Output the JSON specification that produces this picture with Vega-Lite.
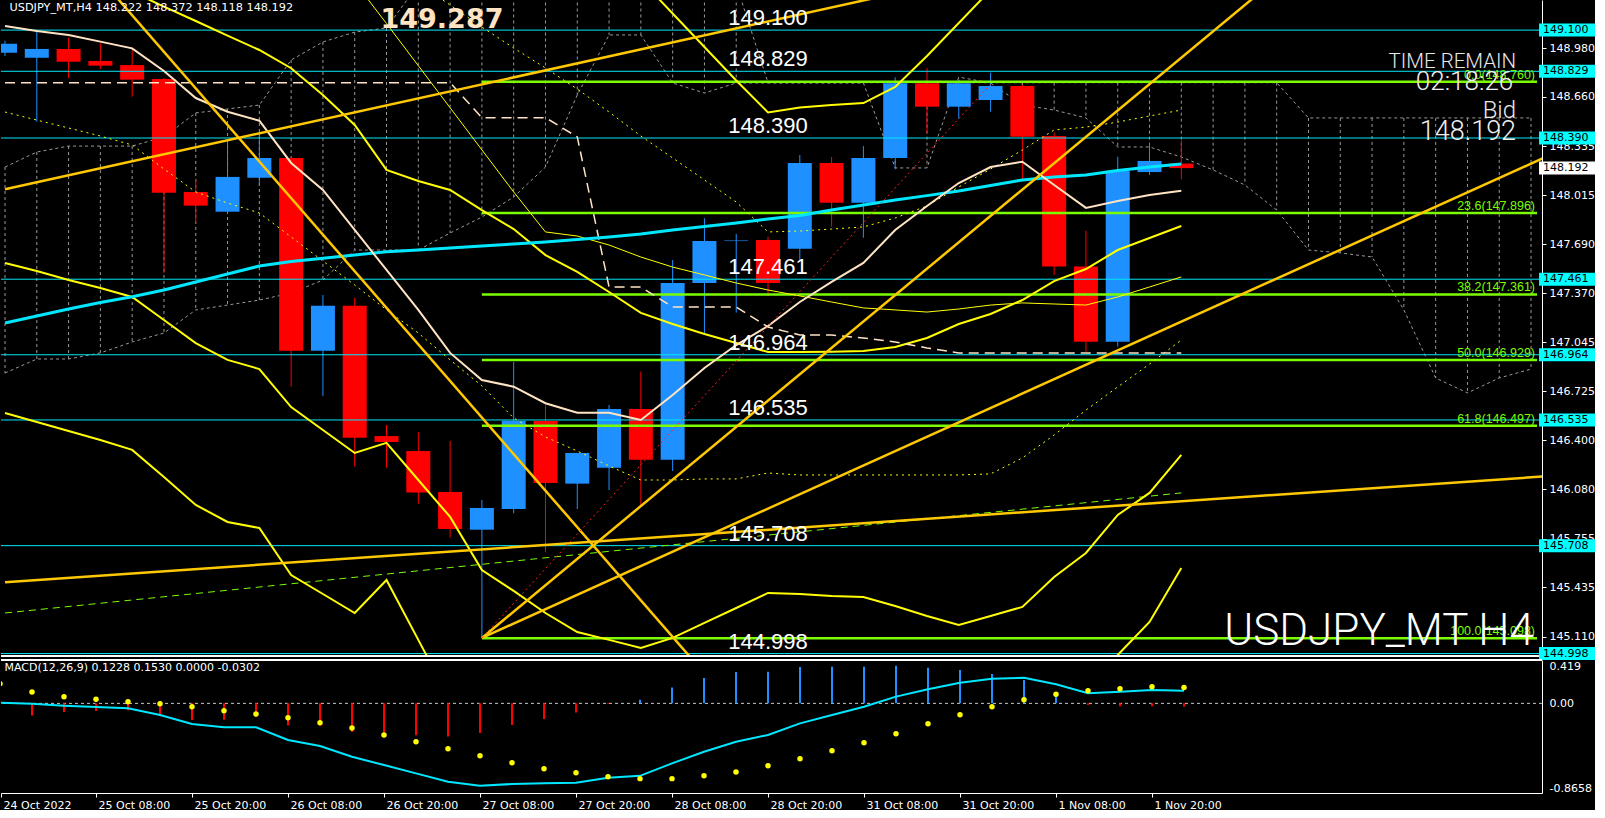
{
"$schema": "https://vega.github.io/schema/vega-lite/v6.json",
"background": "#000000",
"padding": 0,
"spacing": 4,
"bounds": "flush",
"config": {"view": {"stroke": null}, "font": "DejaVu Sans"},
"datasets": {
"candles": [
{"i":-1,"o":148.951,"h":149.03,"l":148.93,"c":149.010},
{"i":0,"o":148.918,"h":149.099,"l":148.497,"c":148.976},
{"i":1,"o":148.976,"h":149.050,"l":148.783,"c":148.892},
{"i":2,"o":148.897,"h":149.013,"l":148.844,"c":148.866},
{"i":3,"o":148.870,"h":148.974,"l":148.662,"c":148.774},
{"i":4,"o":148.778,"h":148.785,"l":147.502,"c":148.030},
{"i":5,"o":148.035,"h":148.120,"l":147.833,"c":147.945},
{"i":6,"o":147.905,"h":148.377,"l":147.900,"c":148.134},
{"i":7,"o":148.129,"h":148.421,"l":148.076,"c":148.258},
{"i":8,"o":148.258,"h":148.262,"l":146.754,"c":146.991},
{"i":9,"o":146.991,"h":147.357,"l":146.693,"c":147.287},
{"i":10,"o":147.287,"h":147.339,"l":146.228,"c":146.418},
{"i":11,"o":146.429,"h":146.502,"l":146.221,"c":146.390},
{"i":12,"o":146.331,"h":146.456,"l":145.984,"c":146.057},
{"i":13,"o":146.061,"h":146.397,"l":145.761,"c":145.818},
{"i":14,"o":145.813,"h":146.009,"l":145.099,"c":145.956},
{"i":15,"o":145.949,"h":146.916,"l":145.921,"c":146.530},
{"i":16,"o":146.528,"h":146.633,"l":145.665,"c":146.120},
{"i":17,"o":146.116,"h":146.318,"l":145.949,"c":146.318},
{"i":18,"o":146.221,"h":146.633,"l":146.074,"c":146.607},
{"i":19,"o":146.607,"h":146.853,"l":145.971,"c":146.274},
{"i":20,"o":146.274,"h":147.587,"l":146.199,"c":147.436},
{"i":21,"o":147.436,"h":147.862,"l":147.107,"c":147.712},
{"i":22,"o":147.712,"h":147.759,"l":147.241,"c":147.716},
{"i":23,"o":147.719,"h":147.741,"l":147.351,"c":147.436},
{"i":24,"o":147.662,"h":148.278,"l":147.587,"c":148.226},
{"i":25,"o":148.226,"h":148.265,"l":147.807,"c":147.964},
{"i":26,"o":147.964,"h":148.337,"l":147.734,"c":148.258},
{"i":27,"o":148.258,"h":148.789,"l":148.184,"c":148.750},
{"i":28,"o":148.750,"h":148.851,"l":148.421,"c":148.596},
{"i":29,"o":148.596,"h":148.770,"l":148.517,"c":148.750},
{"i":30,"o":148.640,"h":148.820,"l":148.563,"c":148.732},
{"i":31,"o":148.732,"h":148.740,"l":148.114,"c":148.399},
{"i":32,"o":148.403,"h":148.425,"l":147.489,"c":147.544},
{"i":33,"o":147.544,"h":147.780,"l":146.984,"c":147.050},
{"i":34,"o":147.050,"h":148.267,"l":147.017,"c":148.175},
{"i":35,"o":148.166,"h":148.359,"l":148.147,"c":148.239},
{"i":36,"o":148.222,"h":148.372,"l":148.118,"c":148.192}
],
"ind": [
{"i":-1,"w":149.127,"cm":147.173,"kj":148.754,"L1":147.568,"L2":146.581,"D1":148.561},
{"i":0,"w":149.094,"cm":147.219,"kj":148.754,"L1":147.515,"L2":146.522,"D1":148.508},
{"i":1,"w":149.068,"cm":147.265,"kj":148.754,"L1":147.456,"L2":146.462,"D1":148.456},
{"i":2,"w":149.024,"cm":147.308,"kj":148.754,"L1":147.403,"L2":146.403,"D1":148.403},
{"i":3,"w":148.980,"cm":147.346,"kj":148.754,"B":149.351,"L1":147.344,"L2":146.338,"D1":148.344},
{"i":4,"w":148.831,"cm":147.390,"kj":148.754,"B":149.255,"L1":147.193,"L2":146.160,"D1":148.186},
{"i":5,"w":148.653,"cm":147.443,"kj":148.754,"B":149.160,"L1":147.041,"L2":145.976,"D1":148.035},
{"i":6,"w":148.563,"cm":147.495,"kj":148.754,"B":149.064,"L1":146.930,"L2":145.864,"D1":147.962},
{"i":7,"w":148.504,"cm":147.548,"kj":148.754,"B":148.969,"L1":146.870,"L2":145.824,"D1":147.897},
{"i":8,"w":148.226,"cm":147.578,"kj":148.754,"B":148.849,"L1":146.620,"L2":145.515,"D1":147.739},
{"i":9,"w":148.048,"cm":147.599,"kj":148.754,"B":148.673,"L1":146.469,"L2":145.390,"D1":147.581},
{"i":10,"w":147.785,"cm":147.620,"kj":148.754,"B":148.476,"L1":146.318,"L2":145.265,"T":149.416,"D1":147.423},
{"i":11,"w":147.522,"cm":147.642,"kj":148.754,"B":148.180,"L1":146.384,"L2":145.482,"T":149.143,"D1":147.259},
{"i":12,"w":147.259,"cm":147.653,"kj":148.754,"B":148.107,"L1":146.140,"L2":145.088,"T":148.866,"D1":147.107,"D2":149.410},
{"i":13,"w":146.976,"cm":147.666,"kj":148.754,"B":148.048,"L1":145.897,"L2":144.693,"T":148.589,"D1":146.930,"D2":149.265},
{"i":14,"w":146.798,"cm":147.680,"kj":148.524,"B":147.916,"L1":145.548,"L2":144.600,"T":148.312,"D1":146.759,"D2":149.120},
{"i":15,"w":146.754,"cm":147.693,"kj":148.524,"B":147.791,"L1":145.410,"L2":144.600,"T":148.035,"D1":146.548,"D2":148.982},
{"i":16,"w":146.645,"cm":147.706,"kj":148.524,"B":147.620,"L1":145.265,"L2":144.600,"T":147.772,"D1":146.423,"D2":148.851},
{"i":17,"w":146.583,"cm":147.722,"kj":148.397,"B":147.509,"L1":145.140,"L2":144.600,"T":147.745,"D1":146.331,"D2":148.712},
{"i":18,"w":146.583,"cm":147.739,"kj":147.410,"B":147.377,"L1":145.088,"L2":144.600,"T":147.686,"D1":146.232,"D2":148.561},
{"i":19,"w":146.535,"cm":147.759,"kj":147.410,"B":147.239,"U":149.430,"L1":145.035,"L2":144.600,"T":147.607,"D1":146.140,"D2":148.403},
{"i":20,"w":146.699,"cm":147.785,"kj":147.278,"B":147.166,"U":149.209,"L1":145.101,"L2":144.600,"T":147.541,"D1":146.140,"D2":148.259},
{"i":21,"w":146.877,"cm":147.808,"kj":147.278,"B":147.101,"U":148.989,"L1":145.200,"L2":144.600,"T":147.489,"D1":146.147,"D2":148.114},
{"i":22,"w":147.028,"cm":147.831,"kj":147.278,"B":147.041,"U":148.768,"L1":145.298,"L2":144.600,"T":147.436,"D1":146.147,"D2":147.969},
{"i":23,"w":147.153,"cm":147.857,"kj":147.147,"B":146.982,"U":148.558,"L1":145.397,"L2":144.600,"T":147.390,"D1":146.186,"D2":147.772},
{"i":24,"w":147.311,"cm":147.880,"kj":147.094,"B":146.982,"U":148.591,"L1":145.390,"L2":144.600,"T":147.351,"D1":146.173,"D2":147.778},
{"i":25,"w":147.443,"cm":147.916,"kj":147.094,"B":146.984,"U":148.607,"L1":145.377,"L2":144.600,"T":147.311,"D1":146.173,"D2":147.791},
{"i":26,"w":147.568,"cm":147.949,"kj":147.074,"B":146.989,"U":148.620,"L1":145.370,"L2":144.600,"T":147.272,"D1":146.173,"D2":147.805},
{"i":27,"w":147.785,"cm":147.982,"kj":147.048,"B":147.015,"U":148.726,"L1":145.311,"L2":144.600,"T":147.259,"D1":146.173,"D2":147.864},
{"i":28,"w":147.943,"cm":148.011,"kj":147.009,"B":147.074,"U":148.930,"L1":145.245,"L2":144.600,"T":147.245,"D1":146.173,"D2":147.943},
{"i":29,"w":148.094,"cm":148.041,"kj":146.976,"B":147.166,"U":149.147,"L1":145.186,"L2":144.600,"T":147.265,"D1":146.173,"D2":148.068},
{"i":30,"w":148.199,"cm":148.078,"kj":146.976,"B":147.232,"U":149.364,"L1":145.245,"L2":144.600,"T":147.291,"D1":146.180,"D2":148.186},
{"i":31,"w":148.234,"cm":148.114,"kj":146.976,"B":147.324,"L1":145.305,"L2":144.600,"T":147.305,"D1":146.285,"D2":148.311},
{"i":32,"w":148.081,"cm":148.134,"kj":146.976,"B":147.449,"L1":145.502,"L2":144.600,"T":147.298,"D1":146.436,"D2":148.443},
{"i":33,"w":147.930,"cm":148.147,"kj":146.976,"B":147.528,"L1":145.660,"L2":144.600,"T":147.291,"D1":146.600,"D2":148.462},
{"i":34,"w":147.976,"cm":148.176,"kj":146.976,"B":147.653,"L1":145.910,"L2":144.989,"T":147.344,"D1":146.752,"D2":148.495},
{"i":35,"w":148.015,"cm":148.199,"kj":146.976,"B":147.732,"L1":146.055,"L2":145.206,"T":147.410,"D1":146.903,"D2":148.535},
{"i":36,"w":148.043,"cm":148.219,"kj":146.976,"B":147.811,"L1":146.305,"L2":145.561,"T":147.476,"D1":147.061,"D2":148.574}
],
"cloud": [
{"i":-1,"a":148.199,"b":146.844},{"i":0,"a":148.298,"b":146.936},{"i":1,"a":148.337,"b":146.936},{"i":2,"a":148.337,"b":146.976},
{"i":3,"a":148.337,"b":147.048},{"i":4,"a":148.397,"b":147.107},{"i":5,"a":148.555,"b":147.259},{"i":6,"a":148.581,"b":147.291},
{"i":7,"a":148.607,"b":147.324},{"i":8,"a":148.903,"b":147.370},{"i":9,"a":149.022,"b":147.456},{"i":10,"a":149.087,"b":147.653},
{"i":11,"a":149.114,"b":147.653},{"i":12,"a":149.40,"b":147.653},{"i":13,"a":149.40,"b":147.765},{"i":14,"a":149.40,"b":147.870},
{"i":15,"a":149.40,"b":148.002},{"i":16,"a":149.40,"b":148.199},{"i":17,"a":149.40,"b":148.673},{"i":18,"a":149.40,"b":149.068},
{"i":19,"a":149.40,"b":149.068},{"i":20,"a":149.40,"b":148.752},{"i":21,"a":149.40,"b":148.686},{"i":22,"a":149.40,"b":148.752},
{"i":23,"a":148.754,"b":148.752},{"i":24,"a":148.754,"b":148.752},{"i":25,"a":148.754,"b":148.752},{"i":26,"a":148.754,"b":148.752},
{"i":27,"a":148.754,"b":148.193},{"i":28,"a":148.754,"b":148.193},{"i":29,"a":148.754,"b":148.791},{"i":30,"a":148.754,"b":148.752},
{"i":31,"a":148.754,"b":148.607},{"i":32,"a":148.754,"b":148.574},{"i":33,"a":148.754,"b":148.522},{"i":34,"a":148.754,"b":148.331},
{"i":35,"a":148.754,"b":148.331},{"i":36,"a":148.754,"b":148.265},{"i":37,"a":148.754,"b":148.180},{"i":38,"a":148.754,"b":148.081},
{"i":39,"a":148.754,"b":147.916},{"i":40,"a":148.522,"b":147.653},{"i":41,"a":148.522,"b":147.634},{"i":42,"a":148.522,"b":147.607},
{"i":43,"a":148.522,"b":147.259},{"i":44,"a":148.522,"b":146.811},{"i":45,"a":148.522,"b":146.713},{"i":46,"a":148.522,"b":146.811},
{"i":47,"a":148.522,"b":146.870}
],
"trend": [
{"id":"t1","i":-1,"p":148.053},{"id":"t1","i":28,"p":149.387},
{"id":"t2","i":2,"p":149.438},{"id":"t2","i":21,"p":144.867},
{"id":"t3","i":14,"p":145.101},{"id":"t3","i":39,"p":149.439},
{"id":"t4","i":14,"p":145.101},{"id":"t4","i":48,"p":148.316},
{"id":"t5","i":-1,"p":145.468},{"id":"t5","i":48,"p":146.172}
],
"rdot": [{"i":14,"p":145.101},{"i":30,"p":148.745}],
"gdash": [{"i":-1,"p":145.265},{"i":36,"p":146.055}],
"hlines": [
{"price":149.100,"lbl":"149.100"},{"price":148.829,"lbl":"148.829"},{"price":148.390,"lbl":"148.390"},
{"price":147.461,"lbl":"147.461"},{"price":146.964,"lbl":"146.964"},{"price":146.535,"lbl":"146.535"},
{"price":145.708,"lbl":"145.708"},{"price":144.998,"lbl":"144.998"}
],
"fibs": [
{"price":148.760,"lbl":"0.0(148.760)"},{"price":147.896,"lbl":"23.6(147.896)"},{"price":147.361,"lbl":"38.2(147.361)"},
{"price":146.929,"lbl":"50.0(146.929)"},{"price":146.497,"lbl":"61.8(146.497)"},{"price":145.098,"lbl":"100.0(145.098)"}
],
"bid": [{"price":148.192,"lbl":"148.192"}],
"macd": [
{"i":-1,"m":0.007,"s":0.19},
{"i":0,"m":-0.003,"s":0.109,"h":-0.116},{"i":1,"m":-0.022,"s":0.065,"h":-0.084},{"i":2,"m":-0.036,"s":0.039,"h":-0.074},
{"i":3,"m":-0.048,"s":0.016,"h":-0.066},{"i":4,"m":-0.112,"s":-0.003,"h":-0.115},{"i":5,"m":-0.2,"s":-0.032,"h":-0.16},
{"i":6,"m":-0.231,"s":-0.071,"h":-0.157},{"i":7,"m":-0.231,"s":-0.103,"h":-0.132},{"i":8,"m":-0.354,"s":-0.138,"h":-0.213},
{"i":9,"m":-0.412,"s":-0.186,"h":-0.218},{"i":10,"m":-0.515,"s":-0.238,"h":-0.277},{"i":11,"m":-0.596,"s":-0.305,"h":-0.298},
{"i":12,"m":-0.676,"s":-0.37,"h":-0.309},{"i":13,"m":-0.757,"s":-0.438,"h":-0.319},{"i":14,"m":-0.796,"s":-0.505,"h":-0.287},
{"i":15,"m":-0.779,"s":-0.573,"h":-0.21},{"i":16,"m":-0.772,"s":-0.631,"h":-0.15},{"i":17,"m":-0.766,"s":-0.67,"h":-0.088},
{"i":18,"m":-0.718,"s":-0.708,"h":-0.006},{"i":19,"m":-0.70,"s":-0.727,"h":0.034},{"i":20,"m":-0.579,"s":-0.727,"h":0.153},
{"i":21,"m":-0.467,"s":-0.699,"h":0.245},{"i":22,"m":-0.37,"s":-0.663,"h":0.303},{"i":23,"m":-0.305,"s":-0.602,"h":0.305},
{"i":24,"m":-0.193,"s":-0.534,"h":0.352},{"i":25,"m":-0.112,"s":-0.457,"h":0.353},{"i":26,"m":-0.032,"s":-0.38,"h":0.355},
{"i":27,"m":0.065,"s":-0.293,"h":0.364},{"i":28,"m":0.136,"s":-0.196,"h":0.343},{"i":29,"m":0.20,"s":-0.109,"h":0.322},
{"i":30,"m":0.239,"s":-0.032,"h":0.284},{"i":31,"m":0.248,"s":0.036,"h":0.226},{"i":32,"m":0.184,"s":0.088,"h":0.105},
{"i":33,"m":0.098,"s":0.123,"h":-0.016},{"i":34,"m":0.113,"s":0.142,"h":-0.027},{"i":35,"m":0.129,"s":0.161,"h":-0.028},
{"i":36,"m":0.1228,"s":0.153,"h":-0.0302}
]
},
"vconcat": [
{
"width": 1541, "height": 656,
"layer": [
{"data":{"name":"cloud"},"mark":{"type":"rule","color":"#9a9a9a","strokeWidth":1,"strokeDash":[3,3],"clip":true},
 "encoding":{"x":{"field":"i","type":"quantitative","scale":{"domain":[-0.96875,47.1875],"nice":false,"zero":false},"axis":null},
 "y":{"field":"a","type":"quantitative","scale":{"domain":[144.982,149.298],"nice":false,"zero":false},
  "axis":{"orient":"right","values":[148.98,148.66,148.335,148.015,147.69,147.37,147.045,146.725,146.4,146.08,145.755,145.435,145.11],"format":".3f","title":null,"grid":false,"domain":true,"domainColor":"#ffffff","domainWidth":1,"ticks":true,"tickColor":"#ffffff","tickSize":4,"labelColor":"#ffffff","labelFont":"DejaVu Sans","labelFontSize":11,"labelPadding":3,"labelOverlap":false,"labelBound":false,"labelFlush":false,"zindex":0}},
 "y2":{"field":"b"}}},
{"data":{"name":"cloud"},"mark":{"type":"line","color":"#9a9a9a","strokeWidth":1,"strokeDash":[3,3],"clip":true},
 "encoding":{"x":{"field":"i","type":"quantitative","scale":{"domain":[-0.96875,47.1875],"nice":false,"zero":false},"axis":null},
 "y":{"field":"a","type":"quantitative","scale":{"domain":[144.982,149.298],"nice":false,"zero":false}}}},
{"data":{"name":"cloud"},"mark":{"type":"line","color":"#9a9a9a","strokeWidth":1,"strokeDash":[3,3],"clip":true},
 "encoding":{"x":{"field":"i","type":"quantitative","scale":{"domain":[-0.96875,47.1875],"nice":false,"zero":false},"axis":null},
 "y":{"field":"b","type":"quantitative","scale":{"domain":[144.982,149.298],"nice":false,"zero":false}}}},
{"data":{"name":"candles"},"mark":{"type":"rule","strokeWidth":1,"clip":true},
 "encoding":{"x":{"field":"i","type":"quantitative","scale":{"domain":[-0.96875,47.1875],"nice":false,"zero":false},"axis":null},
 "y":{"field":"l","type":"quantitative","scale":{"domain":[144.982,149.298],"nice":false,"zero":false}},"y2":{"field":"h"},
 "color":{"condition":{"test":"datum.c >= datum.o","value":"#1e90ff"},"value":"#ff0000"}}},
{"data":{"name":"candles"},"mark":{"type":"bar","width":24,"clip":true},
 "encoding":{"x":{"field":"i","type":"quantitative","scale":{"domain":[-0.96875,47.1875],"nice":false,"zero":false},"axis":null},
 "y":{"field":"o","type":"quantitative","scale":{"domain":[144.982,149.298],"nice":false,"zero":false}},
 "y2":{"field":"c"},
 "color":{"condition":{"test":"datum.c >= datum.o","value":"#1e90ff"},"value":"#ff0000"}}},
{"data":{"name":"hlines"},"mark":{"type":"rule","color":"#00e8f8","strokeWidth":1},
 "encoding":{"y":{"field":"price","type":"quantitative","scale":{"domain":[144.982,149.298],"nice":false,"zero":false}}}},
{"data":{"name":"fibs"},"mark":{"type":"rule","color":"#7cfc00","strokeWidth":2.5},
 "encoding":{"x":{"datum":14,"type":"quantitative","scale":{"domain":[-0.96875,47.1875],"nice":false,"zero":false},"axis":null},"x2":{"datum":47.1875},
 "y":{"field":"price","type":"quantitative","scale":{"domain":[144.982,149.298],"nice":false,"zero":false}}}},
{"data":{"name":"gdash"},"mark":{"type":"line","color":"#7cfc00","strokeWidth":1,"strokeDash":[7,5],"clip":true},
 "encoding":{"x":{"field":"i","type":"quantitative","scale":{"domain":[-0.96875,47.1875],"nice":false,"zero":false},"axis":null},
 "y":{"field":"p","type":"quantitative","scale":{"domain":[144.982,149.298],"nice":false,"zero":false}}}},
{"data":{"name":"ind"},"mark":{"type":"line","color":"#ffff00","strokeWidth":1,"strokeDash":[2,4],"clip":true},
 "encoding":{"x":{"field":"i","type":"quantitative","scale":{"domain":[-0.96875,47.1875],"nice":false,"zero":false},"axis":null},
 "y":{"field":"D1","type":"quantitative","scale":{"domain":[144.982,149.298],"nice":false,"zero":false}}}},
{"data":{"name":"ind"},"mark":{"type":"line","color":"#ffff00","strokeWidth":1,"strokeDash":[2,4],"clip":true},
 "encoding":{"x":{"field":"i","type":"quantitative","scale":{"domain":[-0.96875,47.1875],"nice":false,"zero":false},"axis":null},
 "y":{"field":"D2","type":"quantitative","scale":{"domain":[144.982,149.298],"nice":false,"zero":false}}}},
{"data":{"name":"ind"},"mark":{"type":"line","color":"#ffff00","strokeWidth":1,"clip":true},
 "encoding":{"x":{"field":"i","type":"quantitative","scale":{"domain":[-0.96875,47.1875],"nice":false,"zero":false},"axis":null},
 "y":{"field":"T","type":"quantitative","scale":{"domain":[144.982,149.298],"nice":false,"zero":false}}}},
{"data":{"name":"ind"},"mark":{"type":"line","color":"#ffff00","strokeWidth":2,"clip":true},
 "encoding":{"x":{"field":"i","type":"quantitative","scale":{"domain":[-0.96875,47.1875],"nice":false,"zero":false},"axis":null},
 "y":{"field":"U","type":"quantitative","scale":{"domain":[144.982,149.298],"nice":false,"zero":false}}}},
{"data":{"name":"ind"},"mark":{"type":"line","color":"#ffff00","strokeWidth":2,"clip":true},
 "encoding":{"x":{"field":"i","type":"quantitative","scale":{"domain":[-0.96875,47.1875],"nice":false,"zero":false},"axis":null},
 "y":{"field":"B","type":"quantitative","scale":{"domain":[144.982,149.298],"nice":false,"zero":false}}}},
{"data":{"name":"ind"},"mark":{"type":"line","color":"#ffff00","strokeWidth":2,"clip":true},
 "encoding":{"x":{"field":"i","type":"quantitative","scale":{"domain":[-0.96875,47.1875],"nice":false,"zero":false},"axis":null},
 "y":{"field":"L1","type":"quantitative","scale":{"domain":[144.982,149.298],"nice":false,"zero":false}}}},
{"data":{"name":"ind"},"mark":{"type":"line","color":"#ffff00","strokeWidth":2,"clip":true},
 "encoding":{"x":{"field":"i","type":"quantitative","scale":{"domain":[-0.96875,47.1875],"nice":false,"zero":false},"axis":null},
 "y":{"field":"L2","type":"quantitative","scale":{"domain":[144.982,149.298],"nice":false,"zero":false}}}},
{"data":{"name":"ind"},"mark":{"type":"line","color":"#ffe4c4","strokeWidth":1.5,"strokeDash":[10,6],"clip":true},
 "encoding":{"x":{"field":"i","type":"quantitative","scale":{"domain":[-0.96875,47.1875],"nice":false,"zero":false},"axis":null},
 "y":{"field":"kj","type":"quantitative","scale":{"domain":[144.982,149.298],"nice":false,"zero":false}}}},
{"data":{"name":"ind"},"mark":{"type":"line","color":"#00e8ff","strokeWidth":3,"clip":true},
 "encoding":{"x":{"field":"i","type":"quantitative","scale":{"domain":[-0.96875,47.1875],"nice":false,"zero":false},"axis":null},
 "y":{"field":"cm","type":"quantitative","scale":{"domain":[144.982,149.298],"nice":false,"zero":false}}}},
{"data":{"name":"ind"},"mark":{"type":"line","color":"#ffe4c4","strokeWidth":2,"clip":true},
 "encoding":{"x":{"field":"i","type":"quantitative","scale":{"domain":[-0.96875,47.1875],"nice":false,"zero":false},"axis":null},
 "y":{"field":"w","type":"quantitative","scale":{"domain":[144.982,149.298],"nice":false,"zero":false}}}},
{"data":{"name":"trend"},"mark":{"type":"line","color":"#ffc800","strokeWidth":2.5,"clip":true},
 "encoding":{"x":{"field":"i","type":"quantitative","scale":{"domain":[-0.96875,47.1875],"nice":false,"zero":false},"axis":null},
 "y":{"field":"p","type":"quantitative","scale":{"domain":[144.982,149.298],"nice":false,"zero":false}},
 "detail":{"field":"id"}}},
{"data":{"name":"rdot"},"mark":{"type":"line","color":"#ff2020","strokeWidth":1,"strokeDash":[2,3],"clip":true},
 "encoding":{"x":{"field":"i","type":"quantitative","scale":{"domain":[-0.96875,47.1875],"nice":false,"zero":false},"axis":null},
 "y":{"field":"p","type":"quantitative","scale":{"domain":[144.982,149.298],"nice":false,"zero":false}}}},
{"data":{"values":[{}]},"mark":{"type":"rule","color":"#ffffff","strokeWidth":2},
 "encoding":{"y":{"datum":144.982,"type":"quantitative","scale":{"domain":[144.982,149.298],"nice":false,"zero":false}}}},
{"data":{"name":"hlines"},"mark":{"type":"text","align":"left","baseline":"alphabetic","dy":-5,"fontSize":22,"font":"Liberation Sans","color":"#ffffff"},
 "encoding":{"x":{"datum":21.75,"type":"quantitative","scale":{"domain":[-0.96875,47.1875],"nice":false,"zero":false},"axis":null},
 "y":{"field":"price","type":"quantitative","scale":{"domain":[144.982,149.298],"nice":false,"zero":false}},
 "text":{"field":"lbl"}}},
{"data":{"name":"fibs"},"mark":{"type":"text","align":"right","baseline":"alphabetic","dx":-2,"dy":-3,"fontSize":12.5,"font":"Liberation Sans","color":"#7cfc00"},
 "encoding":{"x":{"datum":47.1875,"type":"quantitative","scale":{"domain":[-0.96875,47.1875],"nice":false,"zero":false},"axis":null},
 "y":{"field":"price","type":"quantitative","scale":{"domain":[144.982,149.298],"nice":false,"zero":false}},
 "text":{"field":"lbl"}}},
{"data":{"values":[{}]},"mark":{"type":"text","text":"USDJPY_MT,H4  148.222 148.372 148.118 148.192","align":"left","baseline":"middle","fontSize":11.3,"font":"DejaVu Sans","color":"#ffffff"},
 "encoding":{"x":{"datum":-0.86,"type":"quantitative","scale":{"domain":[-0.96875,47.1875],"nice":false,"zero":false},"axis":null},
 "y":{"datum":149.245,"type":"quantitative","scale":{"domain":[144.982,149.298],"nice":false,"zero":false}}}},
{"data":{"values":[{}]},"mark":{"type":"text","text":"149.287","align":"left","baseline":"alphabetic","fontSize":27,"fontWeight":"bold","font":"DejaVu Sans","color":"#ffe4c4"},
 "encoding":{"x":{"datum":10.81,"type":"quantitative","scale":{"domain":[-0.96875,47.1875],"nice":false,"zero":false},"axis":null},
 "y":{"datum":149.114,"type":"quantitative","scale":{"domain":[144.982,149.298],"nice":false,"zero":false}}}},
{"data":{"values":[{}]},"mark":{"type":"text","text":"TIME REMAIN","align":"right","baseline":"alphabetic","fontSize":20.5,"fontWeight":300,"font":"Roboto","color":"#e8e8e8"},
 "encoding":{"x":{"datum":46.53,"type":"quantitative","scale":{"domain":[-0.96875,47.1875],"nice":false,"zero":false},"axis":null},
 "y":{"datum":148.851,"type":"quantitative","scale":{"domain":[144.982,149.298],"nice":false,"zero":false}}}},
{"data":{"values":[{}]},"mark":{"type":"text","text":"02:18:26","align":"right","baseline":"alphabetic","fontSize":26,"fontWeight":300,"font":"Roboto","color":"#f0f0f0"},
 "encoding":{"x":{"datum":46.44,"type":"quantitative","scale":{"domain":[-0.96875,47.1875],"nice":false,"zero":false},"axis":null},
 "y":{"datum":148.706,"type":"quantitative","scale":{"domain":[144.982,149.298],"nice":false,"zero":false}}}},
{"data":{"values":[{}]},"mark":{"type":"text","text":"Bid","align":"right","baseline":"alphabetic","fontSize":24,"fontWeight":300,"font":"Roboto","color":"#e8e8e8"},
 "encoding":{"x":{"datum":46.53,"type":"quantitative","scale":{"domain":[-0.96875,47.1875],"nice":false,"zero":false},"axis":null},
 "y":{"datum":148.522,"type":"quantitative","scale":{"domain":[144.982,149.298],"nice":false,"zero":false}}}},
{"data":{"values":[{}]},"mark":{"type":"text","text":"148.192","align":"right","baseline":"alphabetic","fontSize":27,"fontWeight":300,"font":"Roboto","color":"#f0f0f0"},
 "encoding":{"x":{"datum":46.53,"type":"quantitative","scale":{"domain":[-0.96875,47.1875],"nice":false,"zero":false},"axis":null},
 "y":{"datum":148.377,"type":"quantitative","scale":{"domain":[144.982,149.298],"nice":false,"zero":false}}}},
{"data":{"values":[{}]},"mark":{"type":"text","text":"USDJPY_MT H4","align":"right","baseline":"alphabetic","fontSize":44,"fontWeight":300,"font":"Roboto","color":"#ffffff"},
 "encoding":{"x":{"datum":47.09,"type":"quantitative","scale":{"domain":[-0.96875,47.1875],"nice":false,"zero":false},"axis":null},
 "y":{"datum":145.055,"type":"quantitative","scale":{"domain":[144.982,149.298],"nice":false,"zero":false}}}},
{"data":{"name":"hlines"},"mark":{"type":"point","shape":"M0.07,-0.224L2,-0.224L2,0.224L0.07,0.224Z","size":3364,"filled":true,"opacity":1,"color":"#00ffff","strokeWidth":0},
 "encoding":{"x":{"datum":47.1875,"type":"quantitative","scale":{"domain":[-0.96875,47.1875],"nice":false,"zero":false},"axis":null},
 "y":{"field":"price","type":"quantitative","scale":{"domain":[144.982,149.298],"nice":false,"zero":false}}}},
{"data":{"name":"bid"},"mark":{"type":"point","shape":"M0.07,-0.224L2,-0.224L2,0.224L0.07,0.224Z","size":3364,"filled":true,"opacity":1,"color":"#ffffff","strokeWidth":0},
 "encoding":{"x":{"datum":47.1875,"type":"quantitative","scale":{"domain":[-0.96875,47.1875],"nice":false,"zero":false},"axis":null},
 "y":{"field":"price","type":"quantitative","scale":{"domain":[144.982,149.298],"nice":false,"zero":false}}}},
{"data":{"name":"hlines"},"mark":{"type":"text","align":"left","baseline":"middle","dx":6,"fontSize":11,"font":"DejaVu Sans","color":"#000000"},
 "encoding":{"x":{"datum":47.1875,"type":"quantitative","scale":{"domain":[-0.96875,47.1875],"nice":false,"zero":false},"axis":null},
 "y":{"field":"price","type":"quantitative","scale":{"domain":[144.982,149.298],"nice":false,"zero":false}},
 "text":{"field":"lbl"}}},
{"data":{"name":"bid"},"mark":{"type":"text","align":"left","baseline":"middle","dx":6,"fontSize":11,"font":"DejaVu Sans","color":"#000000"},
 "encoding":{"x":{"datum":47.1875,"type":"quantitative","scale":{"domain":[-0.96875,47.1875],"nice":false,"zero":false},"axis":null},
 "y":{"field":"price","type":"quantitative","scale":{"domain":[144.982,149.298],"nice":false,"zero":false}},
 "text":{"field":"lbl"}}}
]
},
{
"width": 1541, "height": 133,
"layer": [
{"data":{"values":[{}]},"mark":{"type":"rule","color":"#c8c8c8","strokeWidth":1,"strokeDash":[3,3]},
 "encoding":{"y":{"datum":0,"type":"quantitative","scale":{"domain":[-0.8658,0.419],"nice":false,"zero":false},
  "axis":{"orient":"right","values":[0.419,0,-0.8658],"labelExpr":"datum.value == 0 ? '0.00' : (datum.value < -0.5 ? '-0.8658' : '0.419')","title":null,"grid":false,"domain":true,"domainColor":"#ffffff","ticks":false,"labelColor":"#ffffff","labelFont":"DejaVu Sans","labelFontSize":11,"labelPadding":7,"labelFlush":true,"labelOverlap":false,"labelBound":false,"zindex":0}}}},
{"data":{"values":[{}]},"mark":{"type":"rule","color":"#ffffff","strokeWidth":2},
 "encoding":{"y":{"datum":0.419,"type":"quantitative","scale":{"domain":[-0.8658,0.419],"nice":false,"zero":false}}}},
{"data":{"name":"macd"},"mark":{"type":"rule","strokeWidth":2,"clip":true},
 "encoding":{"x":{"field":"i","type":"quantitative","scale":{"domain":[-0.96875,47.1875],"nice":false,"zero":false},
  "axis":{"orient":"bottom","values":[-0.96875,2,5,8,11,14,17,20,23,26,29,32,35],"labelExpr":"['24 Oct 2022','25 Oct 08:00','25 Oct 20:00','26 Oct 08:00','26 Oct 20:00','27 Oct 08:00','27 Oct 20:00','28 Oct 08:00','28 Oct 20:00','31 Oct 08:00','31 Oct 20:00','1 Nov 08:00','1 Nov 20:00'][round((datum.value+1)/3)]","labelAlign":"left","labelBaseline":"top","labelPadding":2,"labelOffset":2,"tickSize":4,"tickColor":"#ffffff","domainColor":"#ffffff","labelColor":"#ffffff","labelFont":"DejaVu Sans","labelFontSize":11,"labelFlush":false,"labelOverlap":false,"labelBound":false,"title":null,"grid":false,"zindex":0}},
 "y":{"field":"h","type":"quantitative","scale":{"domain":[-0.8658,0.419],"nice":false,"zero":false}},
 "y2":{"datum":0},
 "color":{"condition":{"test":"datum.h >= 0","value":"#1e90ff"},"value":"#ff0000"}}},
{"data":{"name":"macd"},"mark":{"type":"line","color":"#00e8ff","strokeWidth":2,"clip":true},
 "encoding":{"x":{"field":"i","type":"quantitative","scale":{"domain":[-0.96875,47.1875],"nice":false,"zero":false}},
 "y":{"field":"m","type":"quantitative","scale":{"domain":[-0.8658,0.419],"nice":false,"zero":false}}}},
{"data":{"name":"macd"},"mark":{"type":"point","filled":true,"opacity":1,"color":"#ffff00","size":30,"clip":true},
 "encoding":{"x":{"field":"i","type":"quantitative","scale":{"domain":[-0.96875,47.1875],"nice":false,"zero":false}},
 "y":{"field":"s","type":"quantitative","scale":{"domain":[-0.8658,0.419],"nice":false,"zero":false}}}},
{"data":{"values":[{}]},"mark":{"type":"text","text":"MACD(12,26,9) 0.1228 0.1530 0.0000 -0.0302","align":"left","baseline":"middle","fontSize":11,"font":"DejaVu Sans","color":"#ffffff"},
 "encoding":{"x":{"datum":-0.86,"type":"quantitative","scale":{"domain":[-0.96875,47.1875],"nice":false,"zero":false}},
 "y":{"datum":0.342,"type":"quantitative","scale":{"domain":[-0.8658,0.419],"nice":false,"zero":false}}}}
]
}
]
}
